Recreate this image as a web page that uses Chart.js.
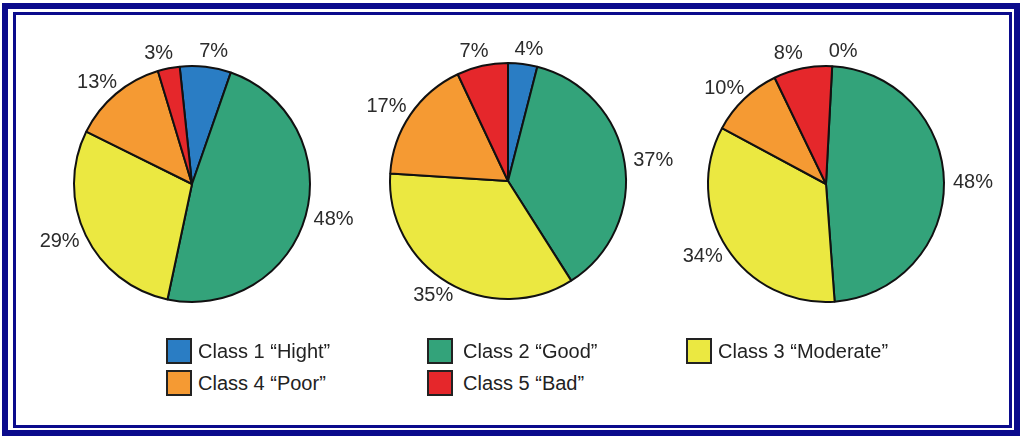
<!DOCTYPE html>
<html>
<head>
<meta charset="utf-8">
<script src="https://cdn.jsdelivr.net/npm/chart.js@4.4.1/dist/chart.umd.min.js"></script>
<style>
  body { margin: 0; background: #fff; font-family: "Liberation Sans", Arial, sans-serif; }
  #page { position: relative; width: 1021px; height: 437px; overflow: hidden; }
  .frame-outer { position: absolute; left: 2px; top: 3px; width: 1018px; height: 433px; box-sizing: border-box; border: 6px solid #0b0b8c; }
  .frame-inner { position: absolute; left: 13px; top: 12px; width: 999px; height: 416px; box-sizing: border-box; border: 3px solid #0b0b8c; }
  .pie { position: absolute; width: 380px; height: 330px; }
  .legend-item { position: absolute; height: 26px; display: flex; align-items: center; font-size: 20px; color: #222; white-space: nowrap; }
  .legend-item .box { width: 26px; height: 26px; box-sizing: border-box; border: 2.5px solid #222; margin-right: 6px; }
</style>
</head>
<body>
<div id="page">
  <div class="frame-outer"></div>
  <div class="frame-inner"></div>
  <canvas id="pie1" class="pie" style="left:2px; top:19px;"></canvas>
  <canvas id="pie2" class="pie" style="left:318px; top:16px;"></canvas>
  <canvas id="pie3" class="pie" style="left:636px; top:19px;"></canvas>
  <div id="legend"></div>
</div>
<script>
const categories = ['Class 1 \u201cHight\u201d', 'Class 2 \u201cGood\u201d', 'Class 3 \u201cModerate\u201d', 'Class 4 \u201cPoor\u201d', 'Class 5 \u201cBad\u201d'];
const pie1Values = [7, 48, 29, 13, 3];
const pie2Values = [4, 37, 35, 17, 7];
const pie3Values = [0, 48, 34, 10, 8];
const classColors = ['#2a7dc4', '#33a37a', '#ebe841', '#f59a33', '#e5272b'];

// percentage labels outside each slice, pushed apart when they crowd
const outsideLabels = {
    id: 'outsideLabels',
    afterDatasetsDraw(chart) {
        const ctx = chart.ctx;
        const meta = chart.getDatasetMeta(0);
        const values = chart.data.datasets[0].data;
        ctx.save();
        ctx.font = '20px "Liberation Sans", Arial, sans-serif';
        ctx.fillStyle = '#2b2b2b';
        ctx.textAlign = 'center';
        ctx.textBaseline = 'middle';
        const h = 12;
        const labels = meta.data.map(function(arc, i) {
            const p = arc.getProps(['x', 'y', 'startAngle', 'endAngle', 'outerRadius'], true);
            const mid = (p.startAngle + p.endAngle) / 2;
            const text = values[i] + '%';
            const w = ctx.measureText(text).width;
            const r = p.outerRadius + 9;
            return {
                text: text, w: w,
                x: p.x + Math.cos(mid) * r + Math.cos(mid) * w / 2,
                y: p.y + Math.sin(mid) * r + Math.sin(mid) * h / 2
            };
        });
        for (let it = 0; it < 10; it++) {
            for (let i = 0; i < labels.length; i++) {
                for (let j = i + 1; j < labels.length; j++) {
                    const a = labels[i], b = labels[j];
                    if (Math.abs(a.y - b.y) > h + 8) continue;
                    const need = (a.w + b.w) / 2 + 26;
                    const dx = b.x - a.x;
                    if (Math.abs(dx) < need) {
                        const push = (need - Math.abs(dx)) / 2;
                        const s = dx >= 0 ? 1 : -1;
                        a.x -= s * push;
                        b.x += s * push;
                    }
                }
            }
        }
        labels.forEach(function(l) { ctx.fillText(l.text, l.x, l.y); });
        ctx.restore();
    }
};

function makePie(id, values, rotation) {
    return new Chart(document.getElementById(id), {
        type: 'pie',
        data: {
            labels: categories,
            datasets: [{
                data: values,
                backgroundColor: classColors,
                borderColor: '#111',
                borderWidth: 2
            }]
        },
        options: {
            responsive: false,
            animation: false,
            events: [],
            rotation: rotation,
            layout: { padding: { top: 46, bottom: 46, left: 71, right: 71 } },
            plugins: {
                legend: { display: false },
                tooltip: { enabled: false }
            }
        },
        plugins: [outsideLabels]
    });
}

['pie1', 'pie2', 'pie3'].forEach(function(id) {
    const c = document.getElementById(id);
    c.width = 380;
    c.height = 330;
});

makePie('pie1', pie1Values, -6);
makePie('pie2', pie2Values, 0);
makePie('pie3', pie3Values, 3);

// shared legend below the pies
const legendSpots = [
    { left: 166, top: 338 }, { left: 427, top: 338 }, { left: 686, top: 338 },
    { left: 166, top: 370 }, { left: 427, top: 370 }
];
const legend = document.getElementById('legend');
categories.forEach(function(name, i) {
    const item = document.createElement('div');
    item.className = 'legend-item';
    item.style.left = legendSpots[i].left + 'px';
    item.style.top = legendSpots[i].top + 'px';
    item.innerHTML = '<span class="box" style="background:' + classColors[i] + (i % 3 === 1 ? ';margin-right:10px' : '') + '"></span><span>' + name + '</span>';
    legend.appendChild(item);
});
</script>
</body>
</html>
